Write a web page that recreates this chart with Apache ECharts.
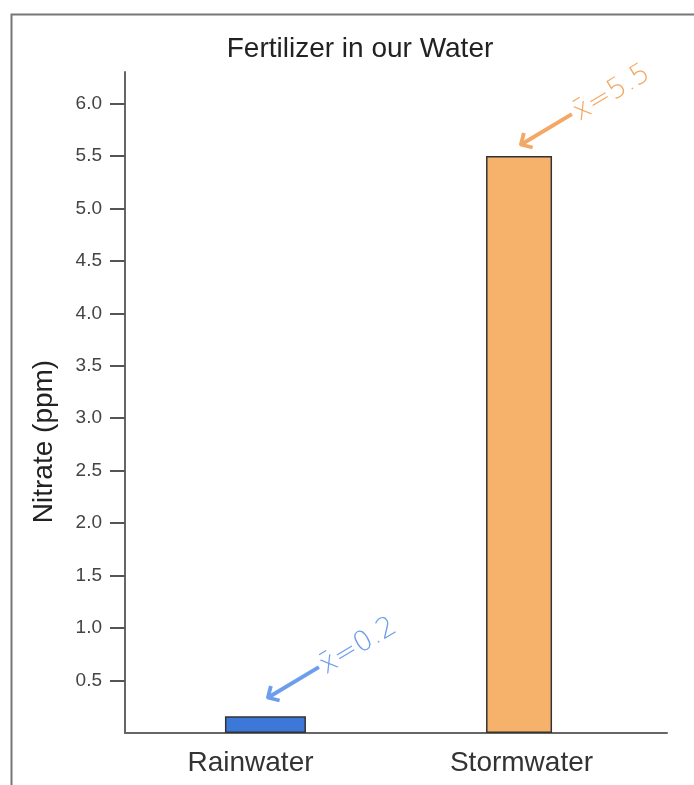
<!DOCTYPE html>
<html>
<head>
<meta charset="utf-8">
<title>Fertilizer in our Water</title>
<script src="https://cdn.jsdelivr.net/npm/echarts@6/dist/echarts.min.js"></script>
<style>
  html, body { margin: 0; padding: 0; background: #fff; }
  #chart { width: 694px; height: 785px; }
</style>
</head>
<body>
<div id="chart"></div>
<script>
// 数据
var categories = ['Rainwater', 'Stormwater'];
var nitrate = [0.16, 5.5];          // bar heights as drawn
var meanNotes = ['0.2', '5.5'];     // handwritten x-bar notes
var tickValues = [0.5, 1.0, 1.5, 2.0, 2.5, 3.0, 3.5, 4.0, 4.5, 5.0, 5.5, 6.0];

var myChart = echarts.init(document.getElementById('chart'));

var font = 'Liberation Sans, Arial, sans-serif';
var handFont = 'DejaVu Sans, sans-serif';

// 手写标注（箭头 + x̄ = 值）
function noteLabel(color, dist) {
    return {
        show: true,
        position: 'top',
        distance: dist,
        align: 'left',
        verticalAlign: 'middle',
        rotate: 31,
        color: color,
        fontFamily: handFont,
        fontWeight: 'lighter',
        formatter: function (p) {
            return '{a|\u27F5}{b|x\u0304=' + meanNotes[p.dataIndex] + '}';
        },
        rich: {
            a: { fontSize: 46, color: color, fontFamily: handFont, fontWeight: 'lighter', verticalAlign: 'middle' },
            b: { fontSize: 28, color: color, fontFamily: handFont, fontWeight: 'lighter', verticalAlign: 'middle' }
        }
    };
}

myChart.setOption({
    animation: false,
    backgroundColor: '#fff',
    title: {
        text: 'Fertilizer in our Water',
        left: 355,
        top: 30,
        textAlign: 'center',
        textStyle: { fontFamily: font, fontWeight: 'normal', fontSize: 28, color: '#222' }
    },
    graphic: [{
        // 外框
        type: 'rect',
        left: 9,
        top: 12,
        shape: { width: 800, height: 900 },
        style: { fill: 'none', stroke: '#777', lineWidth: 2 },
        silent: true
    }],
    grid: { left: 125, right: 27, top: 72, bottom: 52, containLabel: false },
    xAxis: {
        type: 'category',
        data: categories,
        axisLine: { lineStyle: { color: '#666', width: 2 } },
        axisTick: { show: false },
        axisLabel: { fontFamily: font, fontSize: 28, color: '#333', margin: 16, padding: [0, 20, 0, 0] }
    },
    yAxis: {
        type: 'value',
        min: 0,
        max: 6.3,
        interval: 0.5,
        name: 'Nitrate (ppm)',
        nameLocation: 'middle',
        nameGap: 67,
        nameTextStyle: { fontFamily: font, fontSize: 28, color: '#222', padding: [0, 78, 0, 0] },
        splitLine: { show: false },
        axisLine: { show: true, lineStyle: { color: '#666', width: 2 } },
        axisTick: { show: true, length: 15, customValues: tickValues, lineStyle: { color: '#555', width: 2 } },
        axisLabel: {
            customValues: tickValues,
            fontFamily: font,
            fontSize: 19,
            color: '#444',
            margin: 23,
            formatter: function (v) { return v.toFixed(1); }
        }
    },
    series: [{
        name: 'Stormwater',
        type: 'bar',
        barWidth: 66,
        barGap: '-85%',
        data: [null, nitrate[1]],
        itemStyle: { color: '#f6b26b', borderColor: '#333', borderWidth: 1.5 },
        label: noteLabel('#f3a866', 7)
    }, {
        name: 'Rainwater',
        type: 'bar',
        barWidth: 81,
        barGap: '-85%',
        data: [nitrate[0], null],
        itemStyle: { color: '#3c78d8', borderColor: '#333', borderWidth: 1.5 },
        label: noteLabel('#6d9eeb', 14)
    }]
});
</script>
</body>
</html>
